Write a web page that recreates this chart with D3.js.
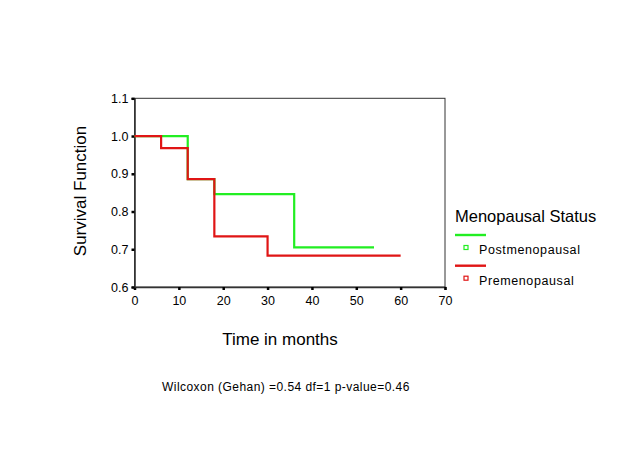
<!DOCTYPE html>
<html><head><meta charset="utf-8">
<script src="https://cdn.jsdelivr.net/npm/d3@7"></script>
<style>body{margin:0;background:#fff}svg{display:block}text{font-family:"Liberation Sans",Arial,sans-serif;fill:#000}</style>
</head><body>
<script>
const xTicks = [0,10,20,30,40,50,60,70];
const yTicks = [0.6,0.7,0.8,0.9,1.0,1.1];
const seriesNames = ["Postmenopausal","Premenopausal"];
const seriesColors = ["#22ee22","#e01515"];
// step points: [time, survival]; last point is end of follow-up
const postTimes = [0,12,18,36,54];
const postSurv  = [1.0,0.886,0.846,0.705,0.705];
const preTimes  = [0,6,12,18,30,60];
const preSurv   = [1.0,0.968,0.886,0.734,0.683,0.683];
const footnote = "Wilcoxon (Gehan) =0.54 df=1 p-value=0.46";

const W=618,H=460;
const svg=d3.select("body").append("svg").attr("width",W).attr("height",H);
const x=d3.scaleLinear().domain([0,70]).range([134.5,445]);
const y=d3.scaleLinear().domain([0.6,1.1]).range([287,98.3]);

// frame
svg.append("rect").attr("x",134.5).attr("y",98.3).attr("width",310.5).attr("height",188.7)
  .attr("fill","none").attr("stroke","#333").attr("stroke-width",1);

const xAxis=svg.append("g").attr("transform","translate(0,287)")
  .call(d3.axisBottom(x).tickValues(xTicks).tickSize(3).tickPadding(4).tickFormat(d3.format("d")));
const yAxis=svg.append("g").attr("transform","translate(134.5,0)")
  .call(d3.axisLeft(y).tickValues(yTicks).tickSize(3).tickPadding(3).tickFormat(d3.format(".1f")));
[xAxis,yAxis].forEach(g=>{
  g.select(".domain").attr("stroke","#333").attr("stroke-width",1.6);
  g.selectAll(".tick line").attr("stroke","#000").attr("stroke-width",2.5);
  g.selectAll(".tick text").attr("font-size",12.5).attr("fill","#000").attr("font-family","Liberation Sans, Arial, sans-serif");
});
xAxis.selectAll(".tick text").attr("dy","0.9em");

const line=d3.line().x(d=>x(d[0])).y(d=>y(d[1])).curve(d3.curveStepAfter);
const series=[d3.zip(postTimes,postSurv), d3.zip(preTimes,preSurv)];
series.forEach((s,i)=>{
  svg.append("path").datum(s).attr("d",line).attr("fill","none")
    .attr("stroke",seriesColors[i]).attr("stroke-width",2.2);
});

// axis titles
svg.append("text").attr("transform","translate(86,191) rotate(-90)").attr("text-anchor","middle")
  .attr("font-size",17).text("Survival Function");
svg.append("text").attr("x",280).attr("y",345).attr("text-anchor","middle")
  .attr("font-size",17).text("Time in months");

// legend
svg.append("text").attr("x",455).attr("y",221.5).attr("font-size",16.5).text("Menopausal Status");
seriesNames.forEach((n,i)=>{
  const ly=235+i*30.7;
  svg.append("line").attr("x1",455).attr("x2",486).attr("y1",ly).attr("y2",ly)
    .attr("stroke",seriesColors[i]).attr("stroke-width",2.4);
  svg.append("rect").attr("x",464).attr("y",ly+10.5).attr("width",4).attr("height",4)
    .attr("fill","#fff").attr("stroke",seriesColors[i]).attr("stroke-width",1.2);
  svg.append("text").attr("x",479).attr("y",ly+19).attr("font-size",12.5)
    .attr("letter-spacing",0.6).text(n);
});

svg.append("text").attr("x",162).attr("y",391).attr("font-size",12)
  .attr("letter-spacing",0.45).text(footnote);
</script>
</body></html>
